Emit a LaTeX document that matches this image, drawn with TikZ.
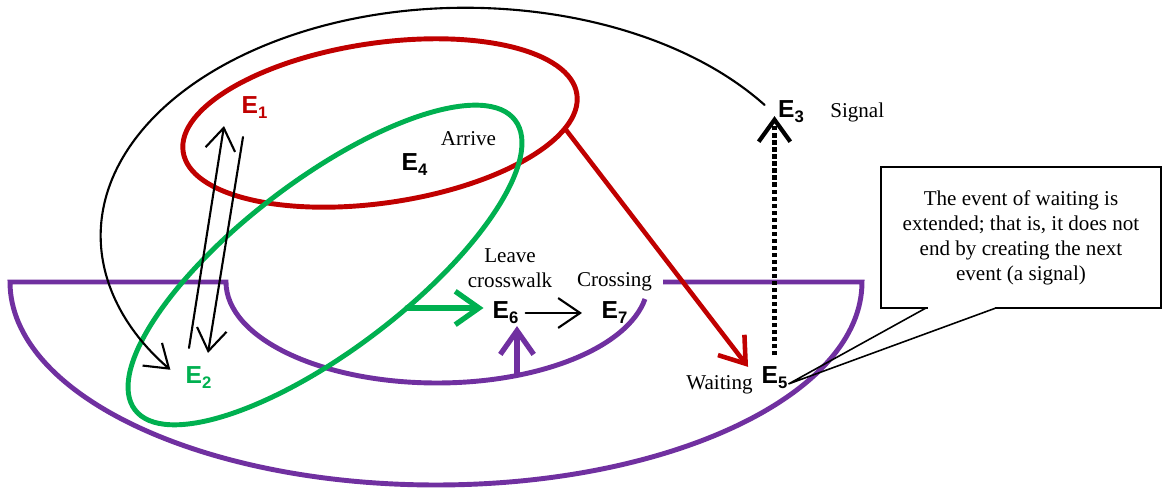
\documentclass[tikz,border=0pt]{standalone}
\usepackage{fontspec}
\setmainfont{Liberation Serif}
\setsansfont{Liberation Sans}
\definecolor{EventRed}{RGB}{192, 0, 0}
\definecolor{EventGreen}{RGB}{0, 176, 80}
\definecolor{EventPurple}{RGB}{112, 48, 160}
\usetikzlibrary{shapes.geometric, arrows.meta, positioning}
\newcommand{\evt}[1]{E\raisebox{-2.8pt}{\fontsize{9.5}{10}\selectfont #1}}

\begin{document}
\begin{tikzpicture}[
        x=0.02cm, y=0.02cm,
        event/.style={inner sep=1pt, font=\sffamily\bfseries\fontsize{14}{16}\selectfont},
        lbl/.style={inner sep=0pt, align=center, font=\fontsize{12}{14.2}\selectfont},
        ring/.style={ellipse, draw, line width=2.8pt, inner sep=0pt, outer sep=0pt},
        note/.style={draw, line width=1.1pt, minimum width=5.6cm, minimum height=2.82cm, align=center, font=\fontsize{12}{14.2}\selectfont},
        barb/.style={-{Straight Barb[length=12.5pt, width=17pt]}, line width=1.2pt, line cap=round},
        heavy/.style={-{Straight Barb[length=13.5pt, width=19pt]}, line width=3pt, line cap=round},
        dotarrow/.style={-{Straight Barb[length=12.5pt, width=18pt]}, line width=2.4pt, dash pattern=on 2.4pt off 1.6pt}
      ]
        \useasboundingbox (0,0) rectangle (1163,489);

        % crosswalk region
        \draw [EventPurple, line width=2.8pt] (663,207) -- (862,207) arc[start angle=0, end angle=-180, x radius=426, y radius=203] -- (226,207) arc[start angle=180, end angle=350.3, x radius=211, y radius=101];

        \node (red) [ring, draw=EventRed, rotate=8.3, minimum width=7.96cm, minimum height=3.2cm] at (380,366) {};
        \node (green) [ring, draw=EventGreen, rotate=37.3, minimum width=9.56cm, minimum height=3.4cm] at (325,224) {};

        \node (e1) [event, text=EventRed] at (254.5,381) {\evt{1}};
        \node (e2) [event, text=EventGreen] at (198.5,111.5) {\evt{2}};
        \node (e3) [event] at (791,377) {\evt{3}};
        \node (e4) [event] at (414.5,324.5) {\evt{4}};
        \node (e5) [event] at (774.5,111.5) {\evt{5}};
        \node (e6) [event] at (505.5,176) {\evt{6}};
        \node (e7) [event] at (614.5,176) {\evt{7}};

        \node (signal) [lbl, right=0.48cm of e3] {Signal};
        \node (arrive) [lbl] at (468.5,350) {Arrive};
        \node (waiting) [lbl] at (719.5,104) {Waiting};
        \node (leave) [lbl, above=0.24cm of e6, xshift=0.09cm] {Leave\\crosswalk};
        \node (crossing) [lbl, above=0.17cm of e7] {Crossing};

        % callout
        \node (note) [note] at (1021,251.5) {The event of waiting is\\extended; that is, it does not\\end by creating the next\\event (a signal)};
        \fill [white] ([shift={(47.5,-2)}]note.south west) rectangle ([shift={(114.5,2)}]note.south west);
        \draw [line width=0.9pt] ([shift={(46,1)}]note.south west) -- ([shift={(-1,-6.5)}]e5.east) -- ([shift={(116,1)}]note.south west);

        \draw [barb] ([shift={(-11.4,7)}]e3.west) arc[start angle=35, end angle=216, x radius=365, y radius=228];
        \draw [barb] ([shift={(-9.5,16.5)}]e2.north) -- ([shift={(-30.5,-5)}]e1.south);
        \draw [barb] ([shift={(-11.5,-16)}]e1.south) -- ([shift={(9.5,11.5)}]e2.north);
        \draw [barb, shorten <=3pt, shorten >=10pt] (e6.east) -- (e7.west);

        \draw [heavy, EventGreen, shorten >=4pt] (green.-65) -- (green.-65 -| e6.west);
        \coordinate (p6) at (517,114);
        \draw [heavy, EventPurple] (p6) -- (p6 |- e6.south);
        \draw [heavy, EventRed, line width=2.6pt] (red.-10) -- ([shift={(-11.5,-2.5)}]e5.north west);
        \draw [dotarrow] ([shift={(0,9)}]e5.north) -- ([shift={(0,9)}]e5.north |- e3.south);
      \end{tikzpicture}
\end{document}
